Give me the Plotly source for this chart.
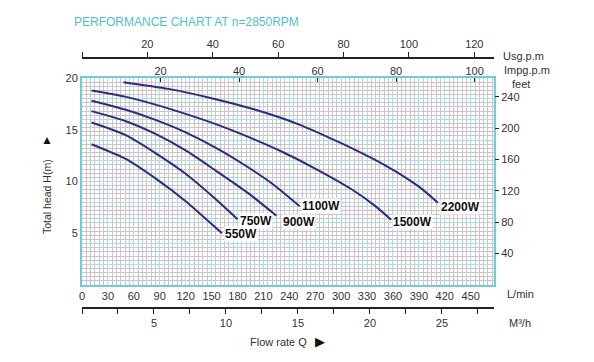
import plotly.graph_objects as go

# ---------------- data ----------------
series_names = ["2200W", "1500W", "1100W", "900W", "750W", "550W"]

flow_2200 = [48, 100, 150, 200, 250, 300, 350, 390, 412]
head_2200 = [19.6, 18.95, 18.05, 16.95, 15.55, 13.7, 11.6, 9.5, 7.95]

flow_1500 = [11, 50, 80, 110, 158, 200, 231, 270, 313, 340, 358]
head_1500 = [18.8, 18.2, 17.55, 16.8, 15.45, 14.05, 12.9, 11.25, 9.2, 7.6, 6.3]

flow_1100 = [11, 50, 85, 120, 154, 190, 220, 252]
head_1100 = [17.8, 16.95, 15.95, 14.75, 13.3, 11.5, 9.8, 7.6]

flow_900 = [11, 50, 85, 120, 154, 192, 225]
head_900 = [16.8, 15.85, 14.6, 13.0, 11.1, 8.9, 6.7]

flow_750 = [11, 50, 85, 120, 154, 180]
head_750 = [15.7, 14.5, 12.75, 10.75, 8.35, 6.35]

flow_550 = [11, 50, 85, 120, 154, 162]
head_550 = [13.6, 12.2, 10.3, 8.1, 5.6, 5.0]

flows = [flow_2200, flow_1500, flow_1100, flow_900, flow_750, flow_550]
heads = [head_2200, head_1500, head_1100, head_900, head_750, head_550]
# label offsets in pixels (xshift, yshift)
label_shift = [(2, -4), (1, -2), (1, 0), (6, -6), (2, -2), (2, -1)]

lpm_ticks = list(range(0, 451, 30))
usg_ticks = [0, 20, 40, 60, 80, 100, 120]
imp_ticks = [20, 40, 60, 80, 100]
m3h_ticks = [i * 2.5 for i in range(0, 12)]
head_ticks = [5, 10, 15, 20]
feet_ticks = [40, 80, 120, 160, 200, 240]

LPM_MAX = 477
HEAD_MAX = 20
FEET_MAX = 264
LPM_PER_USG = 3.785
LPM_PER_IMP = 4.546
LPM_PER_M3H = 16.667

# ---------------- styling ----------------
FONT = "Liberation Sans, Arial, sans-serif"
CURVE = "#2c2c80"
CYAN = "#6fcdd8"
MINOR = "#cbc4cc"
MAJOR = "#a9dfe6"
TXT = "#333333"

OFF = 8  # page body margin
W, H = 594 - OFF, 362 - OFF
ML, MT, MB = 82 - OFF, 50 - OFF, 47
PW = 412
MR = W - ML - PW
PH = H - MT - MB
PLOT_TOP, PLOT_BOTTOM = 78, 285  # screen px


def px(x):
    return (x - OFF - ML) / PW


def py(y):
    return (H - MB - (y - OFF)) / PH


fig = go.Figure()
for name, fx, hy in zip(series_names, flows, heads):
    fig.add_trace(go.Scatter(
        x=fx, y=hy, mode="lines", name=name,
        line=dict(color=CURVE, width=2, shape="spline", smoothing=0.7),
        hoverinfo="skip", showlegend=False,
    ))

# placeholder traces so overlaying axes get drawn
fig.add_trace(go.Scatter(x=[None], y=[None], xaxis="x2", yaxis="y", showlegend=False))
fig.add_trace(go.Scatter(x=[None], y=[None], xaxis="x3", yaxis="y", showlegend=False))
fig.add_trace(go.Scatter(x=[None], y=[None], xaxis="x4", yaxis="y", showlegend=False))
fig.add_trace(go.Scatter(x=[None], y=[None], xaxis="x", yaxis="y2", showlegend=False))
fig.add_trace(go.Scatter(x=[None], y=[None], xaxis="x", yaxis="y3", showlegend=False))

ydom = [py(PLOT_BOTTOM), py(PLOT_TOP)]
tickfont = dict(family=FONT, size=11, color=TXT)

fig.update_layout(
    width=W, height=H,
    margin=dict(l=ML, r=MR, t=MT, b=MB),
    paper_bgcolor="white", plot_bgcolor="white",
    font=dict(family=FONT, color=TXT),
    xaxis=dict(
        range=[0, LPM_MAX], domain=[0, 1], anchor="y", automargin=False,
        tickvals=lpm_ticks, ticks="", tickfont=tickfont,
        showgrid=True, gridcolor=MAJOR, gridwidth=1,
        minor=dict(dtick=5, showgrid=True, gridcolor=MINOR, gridwidth=1),
        showline=True, linecolor=CYAN, linewidth=2, mirror=True,
        zeroline=False, fixedrange=True,
    ),
    xaxis2=dict(
        range=[0, LPM_MAX / LPM_PER_USG], overlaying="x", side="top",
        anchor="free", position=py(58), automargin=False,
        tickvals=usg_ticks, ticktext=["" if v == 0 else str(v) for v in usg_ticks],
        ticks="outside", ticklen=5, tickcolor="#222", tickwidth=1.2,
        tickfont=tickfont, showgrid=False, zeroline=False,
        showline=True, linecolor="#222", linewidth=1.5,
    ),
    xaxis3=dict(
        range=[0, LPM_MAX / LPM_PER_IMP], overlaying="x", side="top",
        anchor="y", tickvals=imp_ticks, automargin=False,
        ticks="inside", ticklen=4, tickcolor="#222", tickwidth=1,
        tickfont=tickfont, showgrid=False, zeroline=False, showline=False,
    ),
    xaxis4=dict(
        range=[0, LPM_MAX / LPM_PER_M3H], overlaying="x", side="bottom",
        anchor="free", position=py(308), automargin=False,
        tickvals=m3h_ticks,
        ticktext=[str(int(v)) if (v > 0 and v % 5 == 0) else "" for v in m3h_ticks],
        ticks="outside", ticklen=5, tickcolor="#222", tickwidth=1.2,
        tickfont=tickfont, showgrid=False, zeroline=False,
        showline=True, linecolor="#222", linewidth=1.5,
    ),
    yaxis=dict(
        range=[0, HEAD_MAX], domain=ydom, anchor="x", automargin=False,
        tickvals=head_ticks, ticks="", tickfont=tickfont,
        showgrid=False, zeroline=False,
        showline=True, linecolor=CYAN, linewidth=2, mirror=True,
    ),
    yaxis3=dict(
        range=[0, HEAD_MAX], domain=ydom, overlaying="y", anchor="x",
        automargin=False, dtick=2, showticklabels=False, ticks="",
        showgrid=True, gridcolor=MAJOR, gridwidth=1,
        minor=dict(dtick=0.4, showgrid=True, gridcolor=MINOR, gridwidth=1),
        zeroline=False, showline=False,
    ),
    yaxis2=dict(
        range=[0, FEET_MAX], overlaying="y", side="right", anchor="x",
        automargin=False, tickvals=feet_ticks, ticks="outside", ticklen=4,
        tickcolor="#222", tickfont=tickfont, showgrid=False,
        zeroline=False, showline=False,
    ),
)

annotations = []
for name, fx, hy, (dx, dy) in zip(series_names, flows, heads, label_shift):
    annotations.append(dict(
        x=fx[-1], y=hy[-1], xref="x", yref="y", text="<b>" + name + "</b>",
        showarrow=False, xanchor="left", yanchor="middle", xshift=dx, yshift=dy,
        font=dict(family=FONT, size=12, color="#111"),
        bgcolor="white", borderpad=0,
    ))


def paper_text(text, x, y, size=11, color=TXT, xanchor="left", angle=0):
    annotations.append(dict(
        x=px(x), y=py(y), xref="paper", yref="paper", text=text,
        showarrow=False, xanchor=xanchor, yanchor="middle",
        textangle=angle, font=dict(family=FONT, size=size, color=color),
    ))


paper_text("PERFORMANCE CHART AT n=2850RPM", 186, 22, size=12, color="#4fc1cd", xanchor="center")
paper_text("Usg.p.m", 501, 56)
paper_text("Impg.p.m", 502, 70)
paper_text("feet", 510, 84)
paper_text("L/min", 505, 294)
paper_text("M³/h", 507, 323)
paper_text("Flow rate Q", 248, 342, size=11)
paper_text("▶", 313, 341, size=13, color="#111")
paper_text("Total head H(m)", 47, 197, size=10.5, xanchor="center", angle=-90)
paper_text("▲", 47, 140, size=12, color="#111", xanchor="center")

fig.update_layout(annotations=annotations)

fig.write_html("out.html")
